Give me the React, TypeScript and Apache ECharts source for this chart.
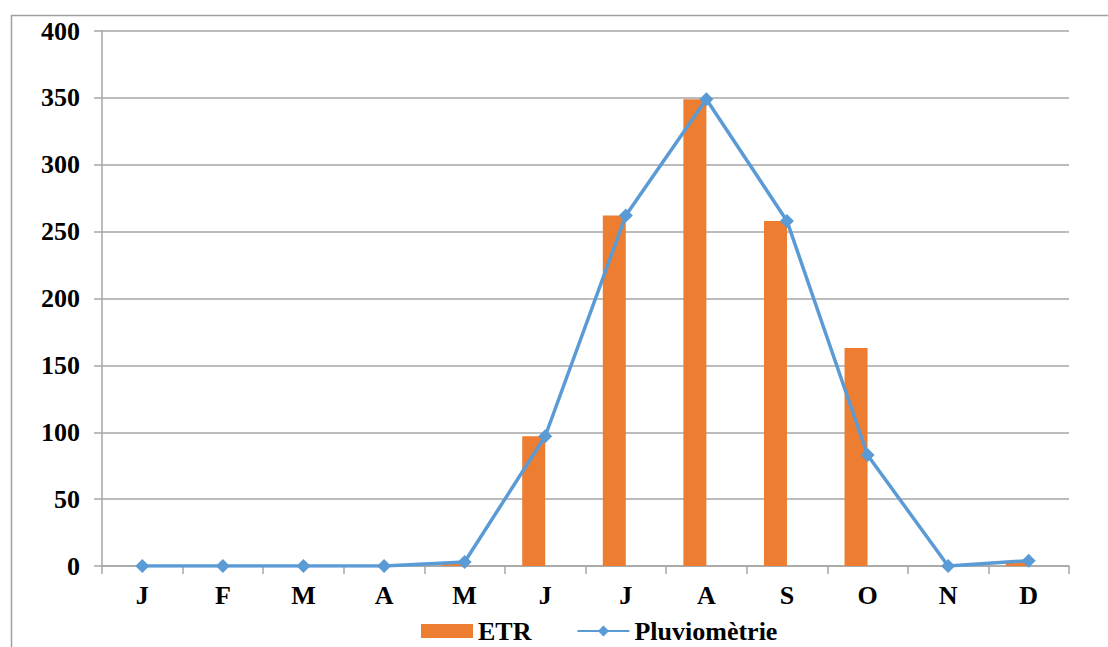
import React, { useEffect, useRef } from "react";
import * as echarts from "echarts";

const months = ["J", "F", "M", "A", "M", "J", "J", "A", "S", "O", "N", "D"];
const etr = [0, 0, 0, 0, 2, 97, 262, 349, 258, 163, 0, 3];
const pluvio = [0, 0, 0, 0, 3, 97, 262, 349, 258, 83, 0, 4];
const emptySlot = months.map(() => null);
const yTicks = { min: 0, max: 400, interval: 50 };

const font = "Liberation Serif";

export default function App() {
  const ref = useRef<HTMLDivElement>(null);
  useEffect(() => {
    if (!ref.current) return;
    const chart = echarts.init(ref.current, null, { renderer: "svg" });
    const labelStyle = { fontFamily: font, fontWeight: "bold", fontSize: 26, color: "#000" };
    chart.setOption({
      animation: false,
      backgroundColor: "#ffffff",
      textStyle: { fontFamily: font },
      graphic: [
        {
          type: "rect",
          shape: { x: 11.5, y: 15.5, width: 1120, height: 700 },
          style: { fill: "none", stroke: "#a0a0a0", lineWidth: 1.5 },
          silent: true,
        },
      ],
      grid: { left: 102, right: 39, top: 31, bottom: 81 },
      legend: {
        top: 618,
        left: 421,
        padding: 0,
        itemWidth: 52,
        itemHeight: 14,
        itemGap: 45,
        textStyle: { ...labelStyle },
        data: [
          { name: "ETR", icon: "rect" },
          { name: "Pluviomètrie" },
        ],
      },
      xAxis: {
        type: "category",
        data: months,
        axisLine: { lineStyle: { color: "#a6a6a6", width: 1.5 } },
        axisTick: { show: true, length: 8, lineStyle: { color: "#a6a6a6", width: 1.5 } },
        axisLabel: { ...labelStyle, margin: 16 },
      },
      yAxis: {
        type: "value",
        min: yTicks.min,
        max: yTicks.max,
        interval: yTicks.interval,
        axisLine: { show: true, lineStyle: { color: "#a6a6a6", width: 1.5 } },
        axisTick: { show: true, length: 8, lineStyle: { color: "#a6a6a6", width: 1.5 } },
        splitLine: { lineStyle: { color: "#a6a6a6", width: 1.5 } },
        axisLabel: { ...labelStyle, margin: 22 },
      },
      series: [
        {
          name: "ETR",
          type: "bar",
          data: etr,
          barWidth: 23,
          barGap: "0%",
          itemStyle: { color: "#ED7D31" },
        },
        {
          name: "_hidden",
          type: "bar",
          data: emptySlot,
          barWidth: 23,
          barGap: "0%",
          silent: true,
          itemStyle: { color: "transparent" },
        },
        {
          name: "Pluviomètrie",
          type: "line",
          data: pluvio,
          symbol: "diamond",
          symbolSize: 14,
          lineStyle: { color: "#5B9BD5", width: 3.5 },
          itemStyle: { color: "#5B9BD5" },
        },
      ],
    });
    return () => chart.dispose();
  }, []);
  return (
    <div
      ref={ref}
      style={{ position: "fixed", left: 0, top: 0, width: 1108, height: 647 }}
    />
  );
}
